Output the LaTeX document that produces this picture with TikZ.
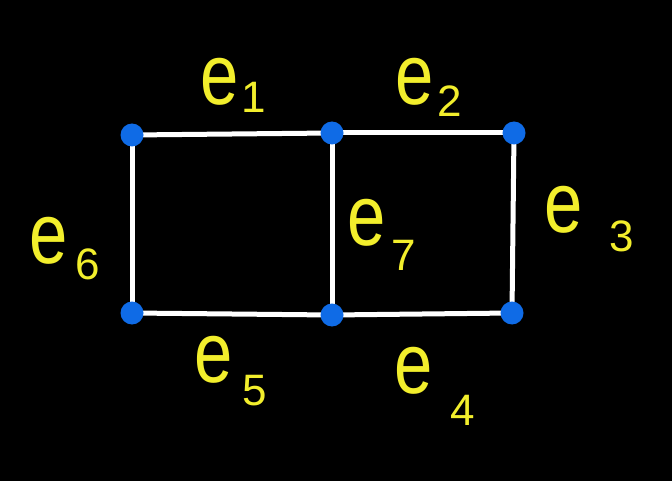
\documentclass[tikz,border=0pt]{standalone}
\usepackage{fontspec}
\setmainfont{Liberation Sans}
\usetikzlibrary{positioning}
\definecolor{Dot}{HTML}{0F6BE6}
\definecolor{Chalk}{HTML}{F2EE2C}
% e with a lowered index: #1 index, #2 gap, #3 drop
\newcommand{\elab}[3]{\scalebox{0.8}[1]{\fontsize{86}{86}\selectfont e}\hspace{#2}\raisebox{#3}{\fontsize{44}{44}\selectfont #1}}

\begin{document}
\begin{tikzpicture}[x=1pt,y=-1pt,
  vtx/.style={circle,fill=Dot,inner sep=0pt,minimum size=23pt},
  edg/.style={draw=white,line width=5pt},
  lbl/.style={text=Chalk,inner sep=0pt,anchor=base west}]
\fill[black] (0,0) rectangle (672,481);
\coordinate (tl) at (132,135);
\coordinate (tm) at (332,133);
\coordinate (tr) at (514,133);
\coordinate (bl) at (132,313);
\coordinate (bm) at (332,315);
\coordinate (br) at (512,313);
\foreach \x/\y in {tl/tm,tm/tr,tr/br,br/bm,bm/bl,bl/tl,tm/bm}\draw[edg] (\x) -- (\y);
\foreach \n in {tl,tm,tr,bl,bm,br}\node[vtx] (v\n) at (\n) {};
\node[lbl] (e1) at (200,105) {\elab{1}{3pt}{-8pt}};
\node[lbl] (e2) at (395,105) {\elab{2}{4pt}{-12pt}};
\node[lbl] (e3) at (544,233) {\elab{3}{27pt}{-19pt}};
\node[lbl] (e4) at (394,393) {\elab{4}{18pt}{-32pt}};
\node[lbl] (e5) at (194,382) {\elab{5}{10pt}{-23pt}};
\node[lbl] (e6) at (29,263) {\elab{6}{8pt}{-17pt}};
\node[lbl] (e7) at (347,245) {\elab{7}{6pt}{-25pt}};
\end{tikzpicture}
\end{document}
